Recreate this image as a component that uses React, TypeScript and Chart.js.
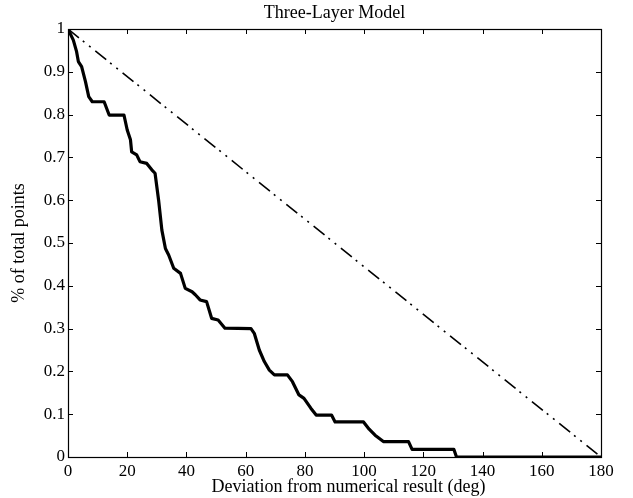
import React, { useEffect, useRef } from "react";
import { Chart, registerables } from "chart.js";

Chart.register(...registerables);

const titleText = "Three-Layer Model";
const xLabel = "Deviation from numerical result (deg)";
const yLabel = "% of total points";

const deviationDeg = [
  0, 1.8, 2.9, 3.5, 4.6, 5.9, 7.0, 8.2, 12.2, 13.9, 18.9, 20.0, 21.1, 21.5, 23.2,
  24.3, 26.6, 28.3, 29.4, 30.6, 31.7, 32.9, 34.0, 35.7, 38.0, 39.6, 41.9, 43.0,
  44.6, 46.8, 48.5, 50.7, 53.0, 61.8, 62.9, 64.6, 66.3, 68.0, 69.7, 74.1, 75.8,
  78.0, 79.7, 82.0, 83.8, 89.0, 90.2, 99.8, 101.7, 103.7, 106.5, 115.0, 116.2,
  130.3, 131.2, 180,
];
const fractionOfPoints = [
  1, 0.974, 0.947, 0.924, 0.912, 0.877, 0.842, 0.83, 0.83, 0.799, 0.799, 0.764,
  0.741, 0.713, 0.706, 0.69, 0.686, 0.671, 0.663, 0.6, 0.53, 0.487, 0.472, 0.441,
  0.429, 0.394, 0.386, 0.379, 0.367, 0.363, 0.324, 0.32, 0.301, 0.3, 0.289, 0.25,
  0.223, 0.203, 0.192, 0.192, 0.176, 0.145, 0.137, 0.114, 0.098, 0.098, 0.082,
  0.082, 0.065, 0.051, 0.036, 0.036, 0.018, 0.018, 0, 0,
];
const referenceDeg = [0, 180];
const referenceFraction = [1, 0];

const xTicks = [0, 20, 40, 60, 80, 100, 120, 140, 160, 180];
const yTicks = [0, 0.1, 0.2, 0.3, 0.4, 0.5, 0.6, 0.7, 0.8, 0.9, 1];

const FONT = '"Liberation Serif", "Times New Roman", serif';

const framePlugin = {
  id: "matlabFrame",
  afterDraw(chart: any) {
    const { ctx, chartArea, scales } = chart;
    const { left, right, top, bottom } = chartArea;
    const len = 5;
    ctx.save();
    ctx.strokeStyle = "#000";
    ctx.lineWidth = 1;
    ctx.beginPath();
    for (const t of scales.x.ticks) {
      const px = Math.round(scales.x.getPixelForValue(t.value)) + 0.5;
      ctx.moveTo(px, bottom);
      ctx.lineTo(px, bottom - len);
      ctx.moveTo(px, top);
      ctx.lineTo(px, top + len);
    }
    for (const t of scales.y.ticks) {
      const py = Math.round(scales.y.getPixelForValue(t.value)) + 0.5;
      ctx.moveTo(left, py);
      ctx.lineTo(left + len, py);
      ctx.moveTo(right, py);
      ctx.lineTo(right - len, py);
    }
    ctx.stroke();
    ctx.lineWidth = 1.2;
    ctx.strokeRect(
      Math.round(left) + 0.5,
      Math.round(top) + 0.5,
      Math.round(right - left),
      Math.round(bottom - top)
    );

    // title and x-axis label (real text)
    ctx.fillStyle = "#000";
    ctx.font = `18px ${FONT}`;
    ctx.textAlign = "center";
    ctx.textBaseline = "middle";
    ctx.fillText(titleText, (left + right) / 2, 13);
    ctx.fillText(xLabel, (left + right) / 2 + 14, 487);
    ctx.restore();
  },
};

export default function App() {
  const ref = useRef<HTMLCanvasElement | null>(null);

  useEffect(() => {
    document.body.style.margin = "0";
    const canvas = ref.current;
    if (!canvas) return;
    const chart = new Chart(canvas, {
      type: "line",
      data: {
        datasets: [
          {
            data: deviationDeg.map((x, i) => ({ x, y: fractionOfPoints[i] })),
            borderColor: "#000",
            borderWidth: 3.2,
            pointRadius: 0,
            tension: 0,
            fill: false,
            borderJoinStyle: "round",
          },
          {
            data: referenceDeg.map((x, i) => ({ x, y: referenceFraction[i] })),
            borderColor: "#000",
            borderWidth: 1.6,
            borderDash: [14, 5, 2, 6, 2, 6],
            pointRadius: 0,
            tension: 0,
            fill: false,
          },
        ],
      },
      options: {
        animation: false,
        responsive: false,
        devicePixelRatio: 1,
        layout: { padding: { left: 0, right: 32, top: 29, bottom: 0 } },
        plugins: {
          legend: { display: false },
          tooltip: { enabled: false },
          title: { display: false },
        },
        scales: {
          x: {
            type: "linear",
            min: 0,
            max: 180,
            afterBuildTicks: (s: any) => {
              s.ticks = xTicks.map((v) => ({ value: v }));
            },
            afterFit: (s: any) => {
              s.height = 41;
            },
            grid: { display: false, drawTicks: false },
            border: { display: false },
            ticks: {
              color: "#000",
              font: { family: FONT, size: 17 },
              padding: 4,
              maxRotation: 0,
              callback: (v: any) => String(v),
            },
            title: { display: false },
          },
          y: {
            type: "linear",
            min: 0,
            max: 1,
            afterBuildTicks: (s: any) => {
              s.ticks = yTicks.map((v) => ({ value: v }));
            },
            afterFit: (s: any) => {
              s.width = 68;
            },
            grid: { display: false, drawTicks: false },
            border: { display: false },
            ticks: {
              color: "#000",
              font: { family: FONT, size: 17 },
              padding: 3,
              callback: (v: any) => String(Math.round(Number(v) * 10) / 10),
            },
            title: {
              display: true,
              text: yLabel,
              color: "#000",
              font: { family: FONT, size: 18 },
              padding: { top: 8, bottom: 0 },
            },
          },
        },
      },
      plugins: [framePlugin],
    } as any);
    return () => chart.destroy();
  }, []);

  return (
    <div style={{ width: 633, height: 498, background: "#fff" }}>
      <canvas ref={ref} width={633} height={498} style={{ display: "block" }} />
    </div>
  );
}
